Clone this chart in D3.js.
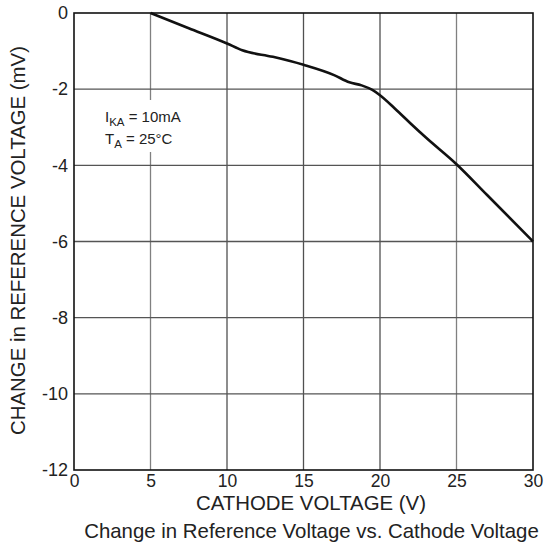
<!DOCTYPE html>
<html>
<head>
<meta charset="utf-8">
<script src="https://cdn.jsdelivr.net/npm/d3@7/dist/d3.min.js"></script>
<style>
html,body{margin:0;padding:0;background:#fff;}
svg{display:block;font-family:Arial,"Liberation Sans",sans-serif;}
</style>
</head>
<body>
<svg id="chart" width="546" height="544"></svg>
<script>
// Data
const cathodeVoltage = [5, 7.5, 10, 11, 13, 15, 17, 18, 18.8, 19.5, 20, 21, 22, 23, 25, 27, 30];
const deltaVref      = [0, -0.4, -0.8, -0.98, -1.15, -1.36, -1.63, -1.82, -1.9, -2.02, -2.16, -2.52, -2.9, -3.27, -3.97, -4.78, -6.0];
const xTicks = [0, 5, 10, 15, 20, 25, 30];
const yTicks = [0, -2, -4, -6, -8, -10, -12];
const xTitle = "CATHODE VOLTAGE (V)";
const yTitle = "CHANGE in REFERENCE VOLTAGE (mV)";
const caption = "Change in Reference Voltage vs. Cathode Voltage";

const svg = d3.select("#chart");
const mL = 74, mR = 533, mT = 13, mB = 470;
const FONT = "Arial, 'Liberation Sans', sans-serif";

const x = d3.scaleLinear().domain([0, 30]).range([mL, mR]);
const y = d3.scaleLinear().domain([-12, 0]).range([mB, mT]);

// grid
const grid = svg.append("g");
grid.selectAll("line.v").data(xTicks.slice(1, -1)).enter().append("line")
  .attr("x1", d => x(d)).attr("x2", d => x(d))
  .attr("y1", mT).attr("y2", mB)
  .attr("stroke", d => (d === 5 || d === 25) ? "#808080" : "#505050").attr("stroke-width", 1.3);
grid.selectAll("line.h").data(yTicks.slice(1, -1)).enter().append("line")
  .attr("x1", mL).attr("x2", mR)
  .attr("y1", d => y(d)).attr("y2", d => y(d))
  .attr("stroke", "#555").attr("stroke-width", 1.3);

// annotation background + text
svg.append("rect").attr("x", 100).attr("y", 100).attr("width", 90).attr("height", 52).attr("fill", "#fff");
const ann1 = svg.append("text").attr("x", 105).attr("y", 122).attr("font-size", 15).attr("fill", "#222");
ann1.append("tspan").text("I");
ann1.append("tspan").attr("dy", 4).attr("font-size", 11.5).text("KA");
ann1.append("tspan").attr("dy", -4).text(" = 10mA");
const ann2 = svg.append("text").attr("x", 105).attr("y", 143.5).attr("font-size", 15).attr("fill", "#222");
ann2.append("tspan").text("T");
ann2.append("tspan").attr("dy", 4).attr("font-size", 11.5).text("A");
ann2.append("tspan").attr("dy", -4).text(" = 25°C");

// frame
svg.append("rect").attr("x", mL).attr("y", mT).attr("width", mR - mL).attr("height", mB - mT)
  .attr("fill", "none").attr("stroke", "#111").attr("stroke-width", 1.6);

// axes (labels only)
const fmt = d => String(d);
const xAxis = d3.axisBottom(x).tickValues(xTicks).tickSize(0).tickPadding(5).tickFormat(fmt);
const gx = svg.append("g").attr("transform", `translate(0,${mB})`).call(xAxis);
gx.select(".domain").remove();
gx.selectAll("text").attr("font-size", 17.5).attr("fill", "#222").attr("font-family", FONT);

const yAxis = d3.axisLeft(y).tickValues(yTicks).tickSize(0).tickPadding(6).tickFormat(fmt);
const gy = svg.append("g").attr("transform", `translate(${mL},0)`).call(yAxis);
gy.select(".domain").remove();
gy.selectAll("text").attr("font-size", 18).attr("fill", "#222").attr("font-family", FONT);

// curve
const pts = cathodeVoltage.map((v, i) => [v, deltaVref[i]]);
svg.append("path").datum(pts)
  .attr("d", d3.line().x(d => x(d[0])).y(d => y(d[1])).curve(d3.curveMonotoneX))
  .attr("fill", "none").attr("stroke", "#111").attr("stroke-width", 2.6);

// titles
svg.append("text").attr("x", 311).attr("y", 510).attr("text-anchor", "middle")
  .attr("font-size", 20.4).attr("fill", "#222").text(xTitle);
svg.append("text").attr("transform", `translate(25,240.5) rotate(-90)`)
  .attr("text-anchor", "middle").attr("font-size", 20.4).attr("fill", "#222").text(yTitle);
svg.append("text").attr("x", 311.5).attr("y", 538).attr("text-anchor", "middle")
  .attr("font-size", 20.4).attr("fill", "#222").text(caption);
</script>
</body>
</html>
